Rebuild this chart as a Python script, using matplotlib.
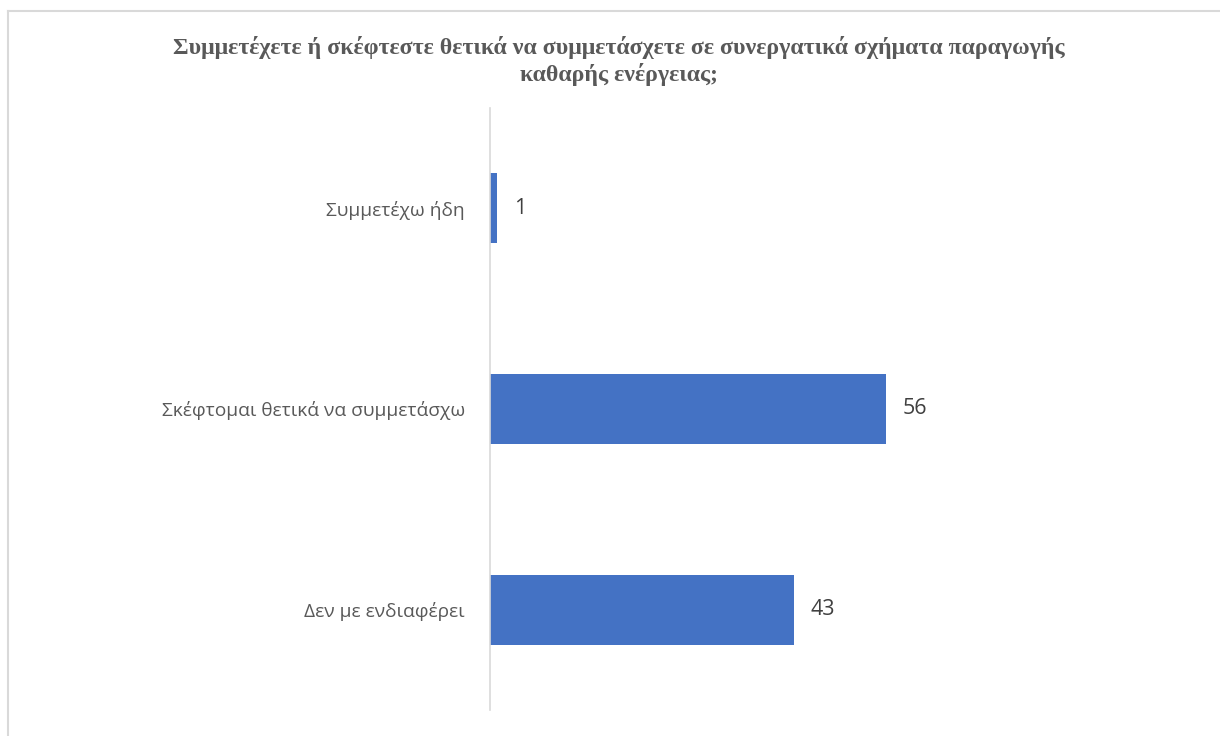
import matplotlib.pyplot as plt
from matplotlib.lines import Line2D

categories = ['Συμμετέχω ήδη', 'Σκέφτομαι θετικά να συμμετάσχω', 'Δεν με ενδιαφέρει']
values = [1, 56, 43]
title = 'Συμμετέχετε ή σκέφτεστε θετικά να συμμετάσχετε σε συνεργατικά σχήματα παραγωγής\nκαθαρής ενέργειας;'

W, H = 1220, 736
fig = plt.figure(figsize=(W / 100, H / 100), dpi=100)
ax = fig.add_axes([490 / W, 1 - 710 / H, (1150 - 490) / W, (710 - 108) / H])

y = list(range(len(categories)))
ax.barh(y, values, height=0.35, color='#4472C4')
ax.set_ylim(len(categories) - 0.5, -0.5)
ax.set_xlim(0, 660 / 7.07)

for yi, v in zip(y, values):
    ax.annotate(str(v), (v, yi), xytext=(12, 0), textcoords='offset points',
                va='center', ha='left', fontsize=15.5, color='#404040',
                family='Open Sans')

ax.set_yticks(y)
ax.set_yticklabels(categories, fontsize=13.8, color='#595959', family='Open Sans')
ax.tick_params(axis='y', length=0, pad=18)
ax.set_xticks([])
for s in ['top', 'right', 'bottom']:
    ax.spines[s].set_visible(False)
ax.spines['left'].set_color('#D9D9D9')
ax.spines['left'].set_linewidth(1.2)

fig.text(619 / W, 1 - 61 / H, title, ha='center', va='center', fontsize=17.2,
         fontweight='bold', color='#595959', family='Liberation Serif',
         linespacing=1.25)

# outer chart frame (top and left edges)
fig.add_artist(Line2D([8 / W, 8 / W], [0, 1 - 11 / H], transform=fig.transFigure,
                      color='#D9D9D9', lw=1.5))
fig.add_artist(Line2D([8 / W, 1], [1 - 11 / H, 1 - 11 / H], transform=fig.transFigure,
                      color='#D9D9D9', lw=1.5))

fig.savefig('out.png', dpi=100)
